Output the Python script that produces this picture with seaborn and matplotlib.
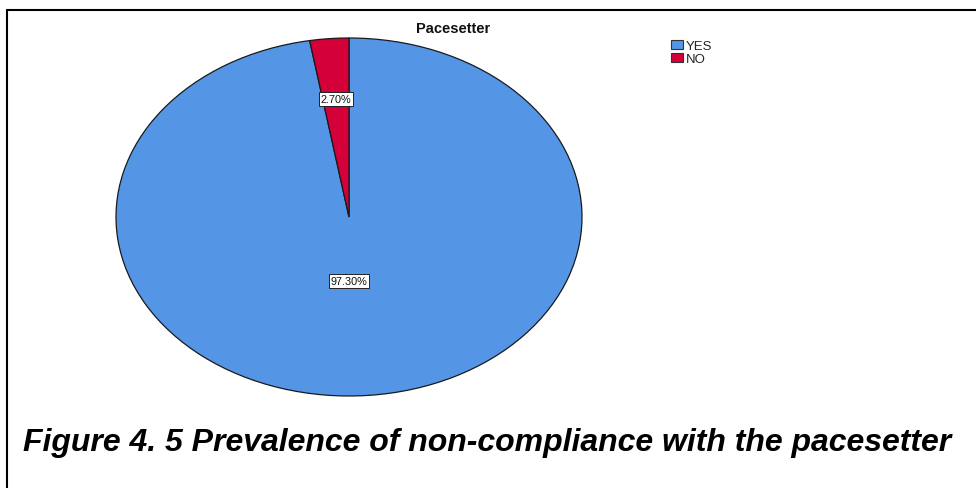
import matplotlib
matplotlib.use("Agg")
import matplotlib.pyplot as plt
from matplotlib.lines import Line2D
from matplotlib.patches import Patch
import numpy as np
import seaborn as sns

categories = ["YES", "NO"]
percentages = [97.30, 2.70]
slice_colors = ["#5495E6", "#D4003A"]
chart_title = "Pacesetter"
caption = "Figure 4. 5 Prevalence of non-compliance with the pacesetter"

sns.set_theme(style="white")
plt.rcParams["font.family"] = ["Liberation Sans", "DejaVu Sans"]

W, H = 976, 489
fig = plt.figure(figsize=(W / 100, H / 100), dpi=100)
fig.patch.set_facecolor("white")

# Pie axes: the unit pie is stretched into an ellipse by the axes box
cx, cy, rx, ry = 349, 218, 233, 179
ax = fig.add_axes([(cx - rx) / W, (H - cy - ry) / H, 2 * rx / W, 2 * ry / H])
palette = sns.color_palette(slice_colors)
wedges, texts, autotexts = ax.pie(
    percentages,
    colors=palette,
    startangle=90,
    counterclock=False,
    radius=1.0,
    autopct=lambda p: f"{p:.2f}%",
    pctdistance=0.66,
    wedgeprops=dict(edgecolor="#1a1a1a", linewidth=0.9),
    textprops=dict(fontsize=7.8, color="#111111"),
)
ax.set_aspect("auto")
ax.set_xlim(-1, 1)
ax.set_ylim(-1, 1)
ax.axis("off")
for w in wedges:
    w.set_clip_on(False)

# Large slice label sits nearer the centre, on the vertical through it
radii = [0.36, 0.66]
for i, (w, t, r) in enumerate(zip(wedges, autotexts, radii)):
    mid = np.deg2rad((w.theta1 + w.theta2) / 2)
    x = r * np.cos(mid) if i else 0.0
    t.set_position((x, r * np.sin(mid)))
    t.set_ha("center")
    t.set_va("center")
    t.set_bbox(dict(boxstyle="square,pad=0.18", facecolor="white",
                    edgecolor="#222222", linewidth=0.7))

fig.text(453 / W, 1 - 29 / H, chart_title, ha="center", va="center",
         fontsize=10.5, fontweight="bold", color="#111111")

handles = [Patch(facecolor=c, edgecolor="#333333", linewidth=0.8) for c in palette]
fig.legend(handles, categories, loc="upper left",
           bbox_to_anchor=(668 / W, 1 - 38 / H), frameon=False,
           fontsize=9.5, handlelength=0.95, handleheight=0.7,
           handletextpad=0.2, labelspacing=0.05, borderpad=0.2,
           borderaxespad=0)

fig.text(487 / W, 1 - 443 / H, caption, ha="center", va="center",
         fontsize=23, fontweight="bold", fontstyle="italic", color="black")

# Page frame: left and top rules
fig.add_artist(Line2D([7 / W, 7 / W], [0, 1 - 11 / H], transform=fig.transFigure,
                      color="black", linewidth=1.5))
fig.add_artist(Line2D([7 / W, 1], [1 - 11 / H, 1 - 11 / H], transform=fig.transFigure,
                      color="black", linewidth=1.5))

fig.savefig("out.png", dpi=100)
